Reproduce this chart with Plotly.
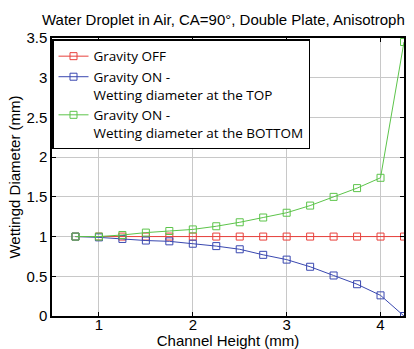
import plotly.graph_objects as go

x = [0.75, 1.0, 1.25, 1.5, 1.75, 2.0, 2.25, 2.5, 2.75, 3.0, 3.25, 3.5, 3.75, 4.0, 4.25]
gravity_off = [1.0] * 15
gravity_on_top = [1.0, 0.99, 0.97, 0.95, 0.94, 0.91, 0.88, 0.84, 0.77, 0.71, 0.62, 0.51, 0.40, 0.26, 0.0]
gravity_on_bottom = [1.0, 1.0, 1.02, 1.05, 1.07, 1.09, 1.13, 1.18, 1.24, 1.30, 1.39, 1.50, 1.61, 1.74, 3.45]

names = ["Gravity OFF",
         "Gravity ON -<br>Wetting diameter at the TOP",
         "Gravity ON -<br>Wetting diameter at the BOTTOM"]
colors = ["#e8413c", "#3a48b0", "#5cc44a"]
series = [gravity_off, gravity_on_top, gravity_on_bottom]

font = "Liberation Sans, Arial, sans-serif"
fig = go.Figure()
for n, c, y in zip(names, colors, series):
    fig.add_trace(go.Scatter(x=x, y=y, name=n, mode="lines+markers",
                             line=dict(color=c, width=1),
                             marker=dict(symbol="square-open", size=7, color=c, line=dict(width=1))))

axis_common = dict(showline=True, linecolor="black", linewidth=1.5, mirror="allticks",
                   ticks="inside", ticklen=4, tickcolor="black", automargin=False,
                   showgrid=True, gridcolor="#c8c8c8", gridwidth=1, zeroline=False,
                   tickfont=dict(size=15, color="black", family=font))

fig.update_layout(
    width=414, height=349,
    margin=dict(l=52, r=10, t=38, b=33),
    paper_bgcolor="white", plot_bgcolor="white",
    font=dict(family=font, color="black"),
    title=dict(text="Water Droplet in Air, CA=90°, Double Plate, Anisotroph",
               x=42/414, xanchor="left", xref="container",
               y=1-20/349, yanchor="middle", yref="container",
               font=dict(size=15, color="black", family=font)),
    xaxis=dict(range=[0.5, 4.25], tickvals=[1, 2, 3, 4], ticklabelstandoff=-6,
               title=dict(text="Channel Height (mm)", standoff=0, font=dict(size=15)),
               **axis_common),
    yaxis=dict(range=[0, 3.5], tickvals=[0, 0.5, 1, 1.5, 2, 2.5, 3, 3.5],
               ticktext=["0", "0.5", "1", "1.5", "2", "2.5", "3", "3.5"],
               title=dict(text="Wettingd Diameter (mm)", standoff=2, font=dict(size=15)),
               **axis_common),
    legend=dict(x=0.0, y=0.995, xanchor="left", yanchor="top", valign="top",
                bordercolor="black", borderwidth=1.5, bgcolor="white",
                font=dict(size=13.5, color="black", family="Open Sans, sans-serif"),
                tracegroupgap=0, itemwidth=30),
    showlegend=True,
)

fig.write_html("out.html")
